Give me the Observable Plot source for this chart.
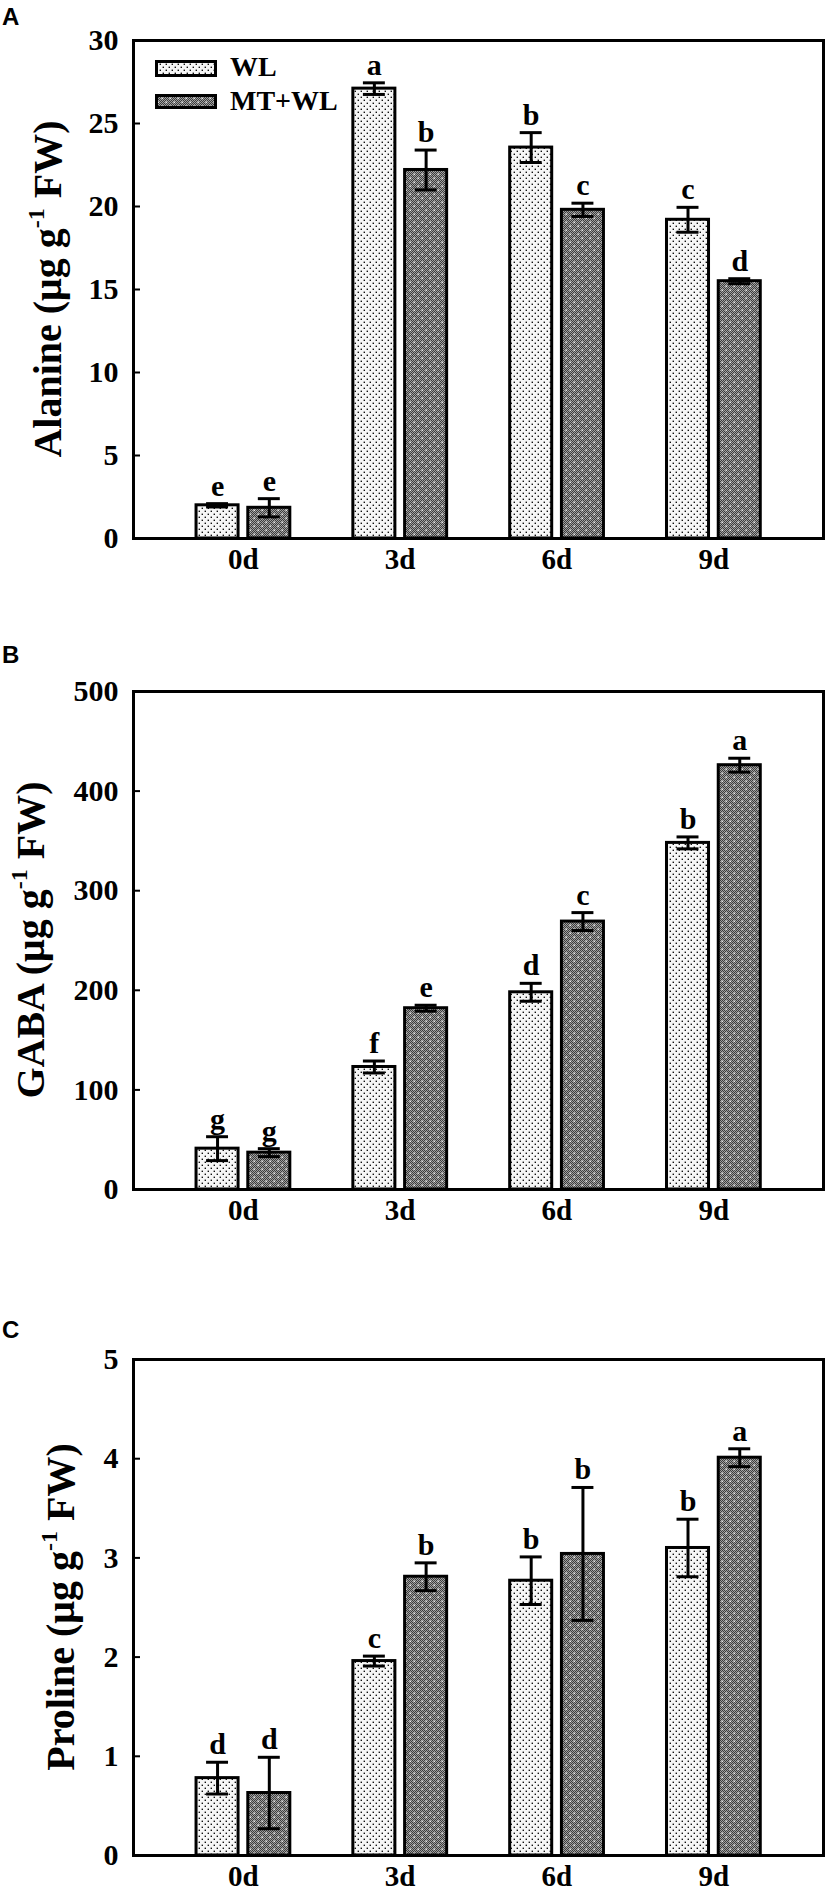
<!DOCTYPE html>
<html>
<head>
<meta charset="utf-8">
<script src="https://cdn.jsdelivr.net/npm/d3@7"></script>
<script src="https://cdn.jsdelivr.net/npm/@observablehq/plot@0.6"></script>
<style>
  html, body { margin: 0; padding: 0; background: #fff; }
  body { width: 827px; height: 1889px; overflow: hidden; position: relative; }
  .panel { position: absolute; left: 0; }
</style>
</head>
<body>
<svg width="0" height="0" style="position:absolute">
  <defs>
    <pattern id="chk" width="2" height="2" patternUnits="userSpaceOnUse">
      <rect width="2" height="2" fill="#3c3c3c"/>
      <rect x="0" y="0" width="1" height="1" fill="#a0a0a0"/>
      <rect x="1" y="1" width="1" height="1" fill="#a0a0a0"/>
    </pattern>
    <pattern id="patMT" width="8" height="8" patternUnits="userSpaceOnUse">
      <rect width="8" height="8" fill="url(#chk)"/>
      <rect x="1.5" y="1.5" width="1.6" height="1.6" fill="#e8e8e8"/>
      <rect x="5.5" y="5.5" width="1.6" height="1.6" fill="#e8e8e8"/>
    </pattern>
    <pattern id="patWL" width="6" height="6" patternUnits="userSpaceOnUse">
      <rect width="6" height="6" fill="#f6f6f6"/>
      <rect x="0.6" y="0.6" width="1.4" height="1.4" fill="#111"/>
      <rect x="3.6" y="3.6" width="1.4" height="1.4" fill="#111"/>
    </pattern>
  </defs>
</svg>
<div id="A" class="panel" style="top:0px"></div>
<div id="B" class="panel" style="top:651px"></div>
<div id="C" class="panel" style="top:1319px"></div>
<script>
// ---- data ----
const days = ["0d", "3d", "6d", "9d"];
const treatments = ["WL", "MT+WL"];

const alanineWL = [2.0, 27.1, 23.55, 19.2];
const alanineWLErr = [0.1, 0.35, 0.9, 0.75];
const alanineMT = [1.85, 22.2, 19.8, 15.5];
const alanineMTErr = [0.55, 1.2, 0.4, 0.15];
const alanineWLLetters = ["e", "a", "b", "c"];
const alanineMTLetters = ["e", "b", "c", "d"];
const alanineTicks = [0, 5, 10, 15, 20, 25, 30];

const gabaWL = [41, 123, 198, 348];
const gabaWLErr = [12, 6, 9, 6];
const gabaMT = [37, 182, 269, 426];
const gabaMTErr = [4, 3, 9, 7];
const gabaWLLetters = ["g", "f", "d", "b"];
const gabaMTLetters = ["g", "e", "c", "a"];
const gabaTicks = [0, 100, 200, 300, 400, 500];

const prolineWL = [0.78, 1.96, 2.77, 3.10];
const prolineWLErr = [0.16, 0.05, 0.24, 0.29];
const prolineMT = [0.63, 2.81, 3.04, 4.01];
const prolineMTErr = [0.36, 0.14, 0.67, 0.09];
const prolineWLLetters = ["d", "c", "b", "b"];
const prolineMTLetters = ["d", "b", "b", "a"];
const prolineTicks = [0, 1, 2, 3, 4, 5];

// ---- drawing ----
const FONT = "'Liberation Serif', 'Times New Roman', serif";
const offset = {"WL": -0.164, "MT+WL": 0.166};
const fills = {"WL": "url(#patWL)", "MT+WL": "url(#patMT)"};
const hw = 0.134, cap = 0.07;
const W = 827, ML = 133, MR = 4, MT = 40, MB = 50;

function rowsFor(wl, wlErr, wlLet, mt, mtErr, mtLet) {
  const rows = [];
  days.forEach((d, i) => {
    rows.push({day: d, i, trt: "WL", v: wl[i], e: wlErr[i], letter: wlLet[i]});
    rows.push({day: d, i, trt: "MT+WL", v: mt[i], e: mtErr[i], letter: mtLet[i]});
  });
  return rows;
}

function panel(id, cfg) {
  const rows = rowsFor(cfg.wl, cfg.wlErr, cfg.wlLet, cfg.mt, cfg.mtErr, cfg.mtLet);
  const cx = d => d.i + offset[d.trt];
  const innerH = cfg.innerH;
  const H = innerH + MT + MB;
  const chart = Plot.plot({
    width: W, height: H,
    marginLeft: ML, marginRight: MR, marginTop: MT, marginBottom: MB,
    x: {domain: [-0.7, 3.7]},
    y: {domain: [0, cfg.ticks[cfg.ticks.length - 1]]},
    style: {fontFamily: FONT, fontWeight: "bold", fontSize: "28px", color: "#000", background: "#fff", overflow: "visible"},
    marks: [
      ...treatments.map(t => Plot.rectY(rows.filter(r => r.trt === t), {
        x1: d => cx(d) - hw, x2: d => cx(d) + hw, y1: 0, y2: "v",
        fill: fills[t], stroke: "#000", strokeWidth: 3
      })),
      Plot.ruleX(rows, {x: cx, y1: d => d.v - d.e, y2: d => d.v + d.e, stroke: "#000", strokeWidth: 3}),
      Plot.ruleY(rows, {y: d => d.v + d.e, x1: d => cx(d) - cap, x2: d => cx(d) + cap, stroke: "#000", strokeWidth: 3}),
      Plot.ruleY(rows, {y: d => d.v - d.e, x1: d => cx(d) - cap, x2: d => cx(d) + cap, stroke: "#000", strokeWidth: 3}),
      Plot.text(rows, {x: cx, y: d => d.v + d.e, text: "letter", lineAnchor: "bottom", dy: -8, fontSize: 30, fontWeight: "bold", fill: "#000"}),
      Plot.tickY(cfg.ticks.slice(1, -1), {y: d => d, insetRight: W - ML - MR - 7, stroke: "#000", strokeWidth: 2}),
      Plot.axisY({ticks: cfg.ticks, tickFormat: d => String(d), label: null, tickSize: 0, tickPadding: 15, fontSize: 30, fontWeight: "bold"}),
      Plot.axisX({ticks: [0, 1, 2, 3], tickFormat: i => days[i], label: null, tickSize: 0, tickPadding: 10, fontSize: 29, fontWeight: "bold"}),
      Plot.frame({stroke: "#000", strokeWidth: 3})
    ]
  });
  const svg = d3.select(chart);
  // panel letter
  svg.append("text").attr("x", 2).attr("y", cfg.letterY)
    .attr("text-anchor", "start")
    .attr("font-family", "'Liberation Sans', Arial, sans-serif").attr("font-weight", "bold")
    .attr("font-size", 24).attr("fill", "#000").text(id);
  // y-axis title with superscript
  const cy = MT + innerH / 2;
  const t = svg.append("text")
    .attr("transform", `translate(${cfg.labelX},${cy}) rotate(-90)`)
    .attr("text-anchor", "middle")
    .attr("font-family", FONT).attr("font-weight", "bold").attr("font-size", cfg.labelSize)
    .attr("fill", "#000");
  t.append("tspan").text(cfg.label + " (μg g");
  t.append("tspan").attr("dy", -cfg.labelSize * 0.42).attr("font-size", cfg.labelSize * 0.6).text("-1");
  t.append("tspan").attr("dy", cfg.labelSize * 0.42).text(" FW)");
  if (cfg.legend) {
    const lg = svg.append("g").attr("text-anchor", "start");
    const items = [
      {name: treatments[0], fill: fills["WL"], y: 61.5, h: 14, ty: 76},
      {name: treatments[1], fill: fills["MT+WL"], y: 95.5, h: 12, ty: 110}
    ];
    items.forEach(it => {
      lg.append("rect").attr("x", 156.5).attr("y", it.y).attr("width", 59).attr("height", it.h)
        .attr("fill", it.fill).attr("stroke", "#000").attr("stroke-width", 3);
      lg.append("text").attr("x", 230).attr("y", it.ty)
        .attr("text-anchor", "start")
        .attr("font-family", FONT).attr("font-weight", "bold").attr("font-size", 28)
        .attr("fill", "#000").text(it.name);
    });
  }
  document.getElementById(id).appendChild(chart);
}

panel("A", {wl: alanineWL, wlErr: alanineWLErr, wlLet: alanineWLLetters,
  mt: alanineMT, mtErr: alanineMTErr, mtLet: alanineMTLetters,
  ticks: alanineTicks, innerH: 498, label: "Alanine", labelX: 61, labelSize: 40, letterY: 25, legend: true});
panel("B", {wl: gabaWL, wlErr: gabaWLErr, wlLet: gabaWLLetters,
  mt: gabaMT, mtErr: gabaMTErr, mtLet: gabaMTLetters,
  ticks: gabaTicks, innerH: 498, label: "GABA", labelX: 44, labelSize: 40, letterY: 12});
panel("C", {wl: prolineWL, wlErr: prolineWLErr, wlLet: prolineWLLetters,
  mt: prolineMT, mtErr: prolineMTErr, mtLet: prolineMTLetters,
  ticks: prolineTicks, innerH: 496, label: "Proline", labelX: 74, labelSize: 40, letterY: 19});
</script>
</body>
</html>
